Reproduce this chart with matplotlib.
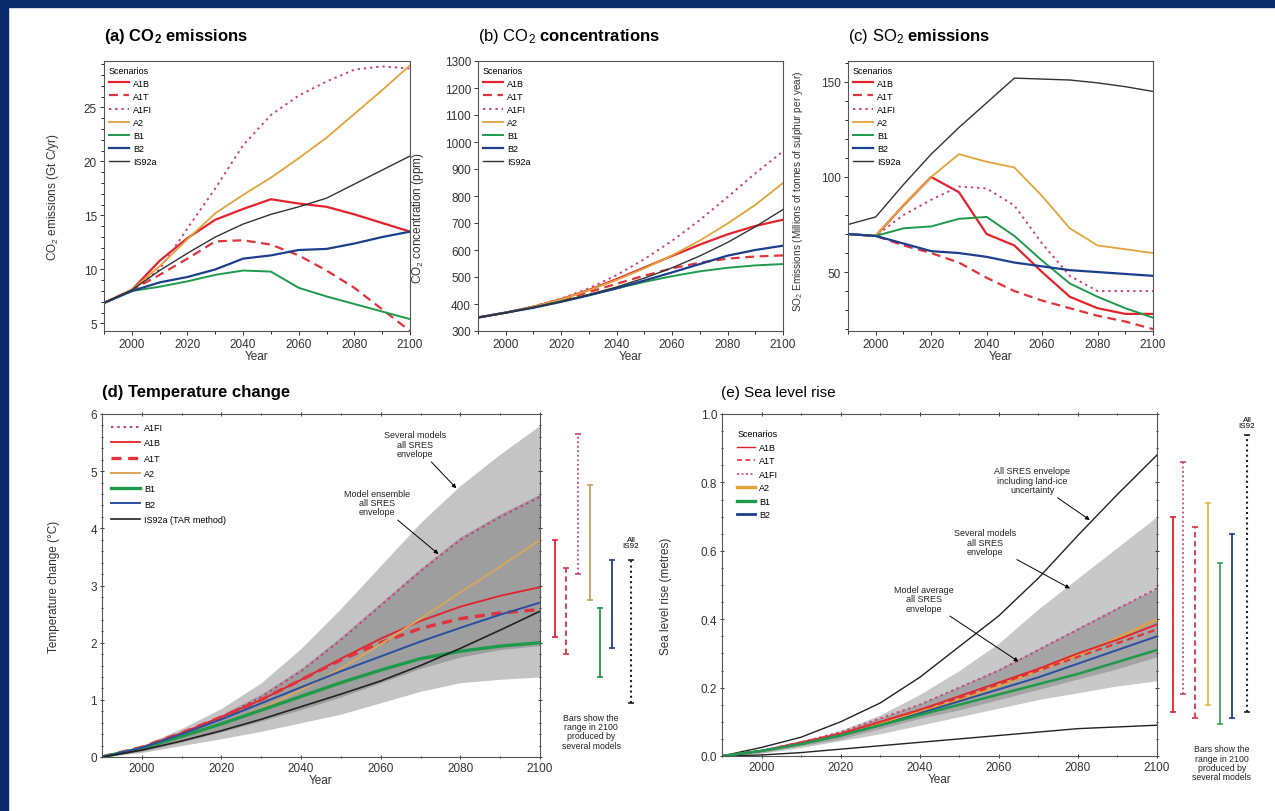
import matplotlib
matplotlib.use('Agg')
import matplotlib.pyplot as plt
from matplotlib.patches import Rectangle
from matplotlib.ticker import MultipleLocator, FormatStrFormatter

plt.rcParams['font.family'] = ['Liberation Sans', 'DejaVu Sans']
plt.rcParams['mathtext.fontset'] = 'custom'
plt.rcParams['mathtext.rm'] = 'Liberation Sans'
plt.rcParams['mathtext.it'] = 'Liberation Sans:italic'
plt.rcParams['mathtext.bf'] = 'Liberation Sans:bold'
plt.rcParams['mathtext.default'] = 'regular'

years = [1990, 2000, 2010, 2020, 2030, 2040, 2050, 2060, 2070, 2080, 2090, 2100]

# (a) CO2 emissions, Gt C/yr
em_a1b = [6.9, 8.1, 10.8, 12.9, 14.6, 15.6, 16.5, 16.1, 15.8, 15.1, 14.3, 13.5]
em_a1t = [6.9, 8.1, 9.5, 11.0, 12.6, 12.7, 12.3, 11.3, 9.9, 8.3, 6.3, 4.3]
em_a1fi = [6.9, 8.1, 10.0, 13.8, 17.5, 21.5, 24.3, 26.1, 27.4, 28.5, 28.8, 28.6]
em_a2 = [6.9, 8.1, 10.3, 12.8, 15.2, 16.9, 18.5, 20.3, 22.2, 24.4, 26.6, 28.9]
em_b1 = [6.9, 8.0, 8.4, 8.9, 9.5, 9.9, 9.8, 8.3, 7.5, 6.8, 6.1, 5.4]
em_b2 = [6.9, 8.0, 8.8, 9.3, 10.0, 11.0, 11.3, 11.8, 11.9, 12.4, 13.0, 13.5]
em_is92a = [6.9, 8.1, 9.9, 11.5, 13.0, 14.2, 15.1, 15.8, 16.6, 17.9, 19.2, 20.5]

# (b) CO2 concentrations, ppm
co_a1b = [350, 368, 390, 418, 452, 492, 535, 578, 620, 658, 689, 712]
co_a1t = [350, 368, 389, 414, 444, 475, 505, 532, 553, 568, 576, 580]
co_a1fi = [350, 368, 391, 420, 458, 507, 566, 634, 711, 796, 884, 965]
co_a2 = [350, 368, 390, 417, 451, 489, 532, 580, 635, 698, 767, 848]
co_b1 = [350, 368, 388, 410, 434, 458, 482, 503, 521, 534, 543, 548]
co_b2 = [350, 368, 386, 408, 432, 458, 487, 517, 548, 579, 600, 616]
co_is92a = [350, 367, 387, 409, 435, 463, 496, 534, 578, 628, 686, 750]

# (c) SO2 emissions, MtS/yr
so_a1b = [70, 69, 85, 100, 92, 70, 64, 50, 37, 31, 28, 28]
so_a1t = [70, 69, 64, 60, 55, 47, 40, 35, 31, 27, 24, 20]
so_a1fi = [70, 69, 80, 88, 95, 94, 85, 65, 48, 40, 40, 40]
so_a2 = [70, 69, 85, 100, 112, 108, 105, 90, 73, 64, 62, 60]
so_b1 = [70, 69, 73, 74, 78, 79, 69, 56, 44, 37, 31, 26]
so_b2 = [70, 69, 65, 61, 60, 58, 55, 53, 51, 50, 49, 48]
so_is92a = [75, 79, 96, 112, 126, 139, 152, 151.5, 151, 149.5, 147.5, 145]

# (d) temperature change, deg C
t_a1fi = [0, 0.15, 0.4, 0.7, 1.05, 1.5, 2.05, 2.65, 3.25, 3.8, 4.2, 4.55]
t_a1b = [0, 0.17, 0.42, 0.7, 1.0, 1.35, 1.72, 2.07, 2.38, 2.63, 2.82, 2.97]
t_a1t = [0, 0.17, 0.42, 0.7, 1.0, 1.35, 1.7, 2.0, 2.25, 2.42, 2.52, 2.58]
t_a2 = [0, 0.15, 0.35, 0.57, 0.85, 1.17, 1.55, 1.97, 2.42, 2.88, 3.33, 3.8]
t_b1 = [0, 0.15, 0.36, 0.58, 0.82, 1.06, 1.3, 1.52, 1.72, 1.85, 1.94, 2.0]
t_b2 = [0, 0.16, 0.4, 0.66, 0.94, 1.22, 1.5, 1.76, 2.02, 2.26, 2.49, 2.7]
t_is92a = [0, 0.12, 0.28, 0.46, 0.66, 0.88, 1.1, 1.33, 1.6, 1.9, 2.22, 2.55]
t_env_hi = [0, 0.2, 0.5, 0.85, 1.3, 1.9, 2.6, 3.35, 4.1, 4.75, 5.3, 5.8]
t_env_lo = [0, 0.08, 0.2, 0.32, 0.45, 0.6, 0.75, 0.95, 1.15, 1.3, 1.36, 1.4]
t_ens_hi = [0, 0.18, 0.43, 0.74, 1.1, 1.55, 2.1, 2.7, 3.3, 3.85, 4.25, 4.6]
t_ens_lo = [0, 0.1, 0.26, 0.44, 0.63, 0.83, 1.05, 1.3, 1.55, 1.75, 1.88, 1.95]
# ranges in 2100 (low, high): A1B, A1T, A1FI, A2, B1, B2, IS92
t_bar_lo = [2.1, 1.8, 3.2, 2.75, 1.4, 1.9, 0.95]
t_bar_hi = [3.8, 3.3, 5.65, 4.75, 2.6, 3.45, 3.45]

# (e) sea level rise, metres
s_a1b = [0, 0.015, 0.04, 0.065, 0.1, 0.135, 0.175, 0.215, 0.255, 0.3, 0.34, 0.385]
s_a1t = [0, 0.015, 0.04, 0.065, 0.1, 0.135, 0.17, 0.21, 0.25, 0.29, 0.33, 0.37]
s_a1fi = [0, 0.015, 0.04, 0.07, 0.11, 0.15, 0.2, 0.25, 0.31, 0.37, 0.43, 0.49]
s_a2 = [0, 0.015, 0.035, 0.06, 0.095, 0.13, 0.165, 0.205, 0.25, 0.295, 0.345, 0.4]
s_b1 = [0, 0.015, 0.035, 0.06, 0.09, 0.12, 0.15, 0.18, 0.21, 0.24, 0.275, 0.31]
s_b2 = [0, 0.015, 0.035, 0.06, 0.09, 0.125, 0.16, 0.195, 0.23, 0.27, 0.31, 0.35]
s_avg_hi = [0, 0.016, 0.042, 0.072, 0.112, 0.153, 0.203, 0.255, 0.315, 0.375, 0.435, 0.49]
s_avg_lo = [0, 0.01, 0.03, 0.05, 0.08, 0.11, 0.135, 0.165, 0.195, 0.225, 0.255, 0.29]
s_env_hi = [0, 0.015, 0.04, 0.075, 0.12, 0.18, 0.25, 0.33, 0.43, 0.52, 0.61, 0.7]
s_env_lo = [0, 0.008, 0.025, 0.045, 0.065, 0.09, 0.115, 0.14, 0.165, 0.185, 0.205, 0.22]
s_ice_hi = [0, 0.025, 0.055, 0.1, 0.155, 0.23, 0.32, 0.41, 0.52, 0.645, 0.765, 0.88]
s_ice_lo = [0, 0.003, 0.01, 0.02, 0.03, 0.04, 0.05, 0.06, 0.07, 0.08, 0.085, 0.09]
s_bar_lo = [0.13, 0.18, 0.11, 0.15, 0.095, 0.11, 0.13]
s_bar_hi = [0.70, 0.86, 0.67, 0.74, 0.565, 0.65, 0.94]

C_A1B = '#e4222c'
C_A1T = '#e0333a'
C_A1FI = '#c8447a'
C_A2 = '#e2a33a'
C_B1 = '#1f9a4a'
C_B2 = '#1c3f8c'
C_IS = '#333333'

W, H = 1275, 812
fig = plt.figure(figsize=(W / 100, H / 100), dpi=100)
fig.patch.set_facecolor('white')
fig.patches.append(Rectangle((0, 1 - 8 / H), 1, 8 / H, transform=fig.transFigure, color='#0b2a6b', zorder=5))
fig.patches.append(Rectangle((0, 0), 8 / W, 1, transform=fig.transFigure, color='#0b2a6b', zorder=5))


def box(l, t, r, b):
    return [l / W, 1 - b / H, (r - l) / W, (b - t) / H]


TICK_FS = 8.5
LAB_FS = 8.5
TITLE_FS = 12


def base_axes(ax, ylim):
    ax.set_xlim(1990, 2100)
    ax.set_ylim(*ylim)
    ax.xaxis.set_major_locator(MultipleLocator(20))
    ax.xaxis.set_minor_locator(MultipleLocator(10))
    ax.tick_params(labelsize=TICK_FS, pad=2, length=3, width=0.7, colors='#333333')
    ax.tick_params(which='minor', length=2, width=0.6)
    for s in ax.spines.values():
        s.set_linewidth(0.8)
        s.set_color('#555555')
    ax.set_xlabel('Year', fontsize=LAB_FS, labelpad=0, color='#333333')


def top_lines(ax, a1b, a1t, a1fi, a2, b1, b2, is92a):
    ax.plot(years, a1b, color=C_A1B, lw=1.6, label='A1B')
    ax.plot(years, a1t, color=C_A1T, lw=1.6, ls=(0, (4, 2.5)), label='A1T')
    ax.plot(years, a1fi, color=C_A1FI, lw=1.4, ls=(0, (1.2, 2)), label='A1FI')
    ax.plot(years, a2, color=C_A2, lw=1.3, label='A2')
    ax.plot(years, b1, color=C_B1, lw=1.4, label='B1')
    ax.plot(years, b2, color=C_B2, lw=1.6, label='B2')
    ax.plot(years, is92a, color=C_IS, lw=1.0, label='IS92a')
    ax.legend(title='Scenarios', loc='upper left', fontsize=6.5, title_fontsize=6.5,
              frameon=False, handlelength=2.3, handletextpad=0.4, labelspacing=0.45,
              borderaxespad=0.2, borderpad=0.3, alignment='left')


# (a)
ax_a = fig.add_axes(box(104, 62, 410, 332))
top_lines(ax_a, em_a1b, em_a1t, em_a1fi, em_a2, em_b1, em_b2, em_is92a)
base_axes(ax_a, (4.3, 29.3))
ax_a.yaxis.set_major_locator(MultipleLocator(5))
ax_a.yaxis.set_minor_locator(MultipleLocator(1))
ax_a.set_ylabel('CO$_2$ emissions (Gt C/yr)', fontsize=LAB_FS, color='#333333')
ax_a.yaxis.set_label_coords(-0.14, 0.5)
fig.text(104 / W, 1 - 37 / H, '(a) CO$_2$ emissions', fontsize=TITLE_FS, fontweight='bold', va='center')

# (b)
ax_b = fig.add_axes(box(478, 62, 783, 332))
top_lines(ax_b, co_a1b, co_a1t, co_a1fi, co_a2, co_b1, co_b2, co_is92a)
base_axes(ax_b, (300, 1300))
ax_b.yaxis.set_major_locator(MultipleLocator(100))
ax_b.set_ylabel('CO$_2$ concentration (ppm)', fontsize=LAB_FS, color='#333333')
ax_b.yaxis.set_label_coords(-0.17, 0.42)
fig.text(478 / W, 1 - 37 / H, r'(b) CO$_2$ $\mathbf{concentrations}$', fontsize=TITLE_FS, va='center')

# (c)
ax_c = fig.add_axes(box(848, 62, 1153, 332))
top_lines(ax_c, so_a1b, so_a1t, so_a1fi, so_a2, so_b1, so_b2, so_is92a)
base_axes(ax_c, (19, 161))
ax_c.yaxis.set_major_locator(MultipleLocator(50))
ax_c.yaxis.set_minor_locator(MultipleLocator(10))
ax_c.set_ylabel('SO$_2$ Emissions (Millions of tonnes of sulphur per year)', fontsize=7.2, color='#333333')
ax_c.yaxis.set_label_coords(-0.14, 0.52)
fig.text(848 / W, 1 - 37 / H, r'(c) SO$_2$ $\mathbf{emissions}$', fontsize=TITLE_FS, va='center')

# (d) temperature change
ax_d = fig.add_axes(box(102, 415, 540, 758))
ax_d.fill_between(years, t_env_lo, t_env_hi, color='#c4c4c4', lw=0)
ax_d.fill_between(years, t_ens_lo, t_ens_hi, color='#9e9e9e', lw=0)
ax_d.plot(years, t_a1fi, color=C_A1FI, lw=1.5, ls=(0, (1.2, 1.8)), label='A1FI')
ax_d.plot(years, t_a1b, color=C_A1B, lw=1.3, label='A1B')
ax_d.plot(years, t_a1t, color=C_A1T, lw=2.4, ls=(0, (3, 2)), label='A1T')
ax_d.plot(years, t_a2, color='#d8a55c', lw=1.4, label='A2')
ax_d.plot(years, t_b1, color=C_B1, lw=2.4, label='B1')
ax_d.plot(years, t_b2, color='#2a4fa0', lw=1.4, label='B2')
ax_d.plot(years, t_is92a, color='#222222', lw=1.2, label='IS92a (TAR method)')
ax_d.legend(loc='upper left', fontsize=6.5, frameon=False, handlelength=3.2, handletextpad=0.5,
            labelspacing=0.7, borderaxespad=0.6)
base_axes(ax_d, (0, 6))
ax_d.yaxis.set_major_locator(MultipleLocator(1))
ax_d.yaxis.set_minor_locator(MultipleLocator(0.2))
ax_d.tick_params(which='both', top=True, right=True, direction='inout')
ax_d.set_ylabel('Temperature change (°C)', fontsize=LAB_FS, color='#333333')
ax_d.yaxis.set_label_coords(-0.095, 0.5)
fig.text(102 / W, 1 - 393 / H, '(d) Temperature change', fontsize=TITLE_FS, fontweight='bold', va='center')

ann = dict(fontsize=6.5, ha='center', va='center', linespacing=1.05, color='#222222',
           arrowprops=dict(arrowstyle='-|>', color='k', lw=0.7, mutation_scale=6, shrinkA=1, shrinkB=0))
ax_d.annotate('Several models\nall SRES\nenvelope', xy=(2079, 4.7), xytext=(2068.5, 5.47), **ann)
ax_d.annotate('Model ensemble\nall SRES\nenvelope', xy=(2074.5, 3.55), xytext=(2059, 4.45), **ann)

bx_d = fig.add_axes(box(545, 415, 645, 758))
bx_d.set_xlim(545, 645)
bx_d.set_ylim(0, 6)
bx_d.axis('off')
bar_x_d = [555, 566, 578, 590, 600, 612, 631]
bar_style = [(C_A1B, '-', 1.3), (C_A1T, (0, (3, 2)), 1.3), (C_A1FI, (0, (1, 1.5)), 1.3),
             ('#c9a55c', '-', 1.3), (C_B1, '-', 1.3), (C_B2, '-', 1.3), ('#222222', (0, (1, 1.5)), 1.5)]
for x, lo, hi, (c, ls, lw) in zip(bar_x_d, t_bar_lo, t_bar_hi, bar_style):
    bx_d.plot([x, x], [lo, hi], color=c, ls=ls, lw=lw, marker='_', ms=5, mew=1.2, clip_on=False)
bx_d.text(631, 3.75, 'All\nIS92', fontsize=5.8, ha='center', va='center', linespacing=0.95)
bx_d.text(591, 0.45, 'Bars show the\nrange in 2100\nproduced by\nseveral models', fontsize=6.3,
          ha='center', va='center', linespacing=1.05, color='#222222')

# (e) sea level rise
ax_e = fig.add_axes(box(722, 415, 1157, 757))
ax_e.fill_between(years, s_env_lo, s_env_hi, color='#c8c8c8', lw=0)
ax_e.fill_between(years, s_avg_lo, s_avg_hi, color='#a4a4a4', lw=0)
ax_e.plot(years, s_ice_hi, color='#222222', lw=1.0)
ax_e.plot(years, s_ice_lo, color='#222222', lw=1.0)
ax_e.plot(years, s_a1fi, color=C_A1FI, lw=1.4, ls=(0, (1.2, 1.8)))
ax_e.plot(years, s_a2, color=C_A2, lw=1.6)
ax_e.plot(years, s_a1b, color=C_A1B, lw=1.3)
ax_e.plot(years, s_a1t, color=C_A1T, lw=1.6, ls=(0, (3, 2)))
ax_e.plot(years, s_b2, color='#2a4fa0', lw=1.4)
ax_e.plot(years, s_b1, color=C_B1, lw=1.8)
hd = [plt.Line2D([], [], color=C_A1B, lw=1.0),
      plt.Line2D([], [], color=C_A1T, lw=1.2, ls=(0, (3, 2))),
      plt.Line2D([], [], color=C_A1FI, lw=1.2, ls=(0, (1.2, 1.5))),
      plt.Line2D([], [], color=C_A2, lw=2.4),
      plt.Line2D([], [], color=C_B1, lw=2.4),
      plt.Line2D([], [], color=C_B2, lw=2.0)]
ax_e.legend(hd, ['A1B', 'A1T', 'A1FI', 'A2', 'B1', 'B2'], title='Scenarios', loc='upper left',
            fontsize=6.5, title_fontsize=6.5, frameon=False, handlelength=2.0, handletextpad=0.4,
            labelspacing=0.5, borderaxespad=1.3, alignment='left')
base_axes(ax_e, (0, 1))
ax_e.yaxis.set_major_locator(MultipleLocator(0.2))
ax_e.yaxis.set_minor_locator(MultipleLocator(0.05))
ax_e.yaxis.set_major_formatter(FormatStrFormatter('%.1f'))
ax_e.tick_params(which='both', top=True, right=True, direction='inout')
ax_e.set_ylabel('Sea level rise (metres)', fontsize=LAB_FS, color='#333333')
ax_e.yaxis.set_label_coords(-0.115, 0.47)
fig.text(721 / W, 1 - 393 / H, '(e) Sea level rise', fontsize=11, va='center')
ax_e.annotate('All SRES envelope\nincluding land-ice\nuncertainty', xy=(2083, 0.69), xytext=(2068.5, 0.806), **ann)
ax_e.annotate('Several models\nall SRES\nenvelope', xy=(2078, 0.49), xytext=(2056.5, 0.625), **ann)
ax_e.annotate('Model average\nall SRES\nenvelope', xy=(2065, 0.276), xytext=(2041, 0.46), **ann)

bx_e = fig.add_axes(box(1160, 415, 1270, 757))
bx_e.set_xlim(1160, 1270)
bx_e.set_ylim(0, 1)
bx_e.axis('off')
bar_x_e = [1173, 1183, 1195, 1208, 1220, 1232, 1247]
bar_style_e = [(C_A1B, '-', 1.3), (C_A1FI, (0, (1, 1.5)), 1.3), (C_A1T, (0, (3, 2)), 1.3),
               ('#e6c040', '-', 1.3), ('#3aa860', '-', 1.3), (C_B2, '-', 1.3), ('#222222', (0, (1, 1.5)), 1.5)]
for x, lo, hi, (c, ls, lw) in zip(bar_x_e, s_bar_lo, s_bar_hi, bar_style_e):
    bx_e.plot([x, x], [lo, hi], color=c, ls=ls, lw=lw, marker='_', ms=5, mew=1.2, clip_on=False)
bx_e.text(1247, 0.975, 'All\nIS92', fontsize=5.8, ha='center', va='center', linespacing=0.95)
bx_e.text(1222, -0.02, 'Bars show the\nrange in 2100\nproduced by\nseveral models', fontsize=6.3,
          ha='center', va='center', linespacing=1.05, color='#222222')

fig.savefig('out.png', dpi=100)
